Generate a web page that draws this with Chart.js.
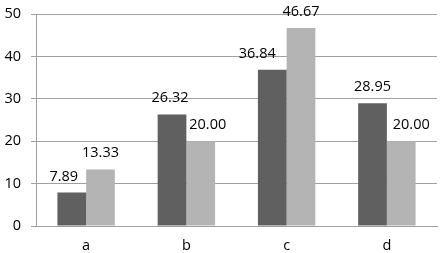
<!DOCTYPE html>
<html>
<head>
<meta charset="utf-8">
<script src="https://cdn.jsdelivr.net/npm/chart.js@4.4.1/dist/chart.umd.min.js"></script>
<style>
html,body{margin:0;padding:0;background:#fff;}
#wrap{width:441px;height:253px;position:relative;}
</style>
</head>
<body>
<div id="wrap"><canvas id="c"></canvas></div>
<script>
const categories = ['a', 'b', 'c', 'd'];
const series1 = [7.89, 26.32, 36.84, 28.95];
const series2 = [13.33, 20.00, 46.67, 20.00];
const yTicks = [0, 10, 20, 30, 40, 50];

const FONT = 'Open Sans, Liberation Sans, sans-serif';

const labelPlugin = {
  id: 'valueLabels',
  afterDatasetsDraw(chart, args, opts) {
    const ctx = chart.ctx;
    ctx.save();
    ctx.font = '14.5px ' + FONT;
    ctx.fillStyle = '#000';
    ctx.textAlign = 'center';
    ctx.textBaseline = 'alphabetic';
    chart.data.datasets.forEach((ds, di) => {
      const meta = chart.getDatasetMeta(di);
      meta.data.forEach((bar, i) => {
        const shift = (opts.shifts && opts.shifts[di] && opts.shifts[di][i]) || 0;
        ctx.fillText(Number(ds.data[i]).toFixed(2), bar.x + shift, bar.y - 12);
      });
    });
    ctx.restore();
  }
};

new Chart(document.getElementById('c'), {
  type: 'bar',
  data: {
    labels: categories,
    datasets: [
      { data: series1, backgroundColor: '#606060', borderWidth: 0 },
      { data: series2, backgroundColor: '#b4b4b4', borderWidth: 0 }
    ]
  },
  options: {
    responsive: true,
    maintainAspectRatio: false,
    animation: false,
    devicePixelRatio: 1,
    layout: { padding: { left: 4, right: 4, top: 14, bottom: 0 } },
    datasets: { bar: { barPercentage: 1, categoryPercentage: 0.573 } },
    plugins: {
      legend: { display: false },
      tooltip: { enabled: false },
      valueLabels: { shifts: [[-8, -2, -15, 0], [0, 7, 0, 10]] }
    },
    scales: {
      x: {
        grid: { display: false },
        border: { display: true, color: '#a0a0a0', width: 1 },
        ticks: { font: { family: FONT, size: 14.5 }, color: '#000', padding: 3 },
        afterFit(scale) { scale.height = 27; }
      },
      y: {
        min: 0,
        max: 50,
        afterBuildTicks(axis) { axis.ticks = yTicks.map(v => ({ value: v })); },
        grid: { color: '#a0a0a0', lineWidth: 1, drawTicks: true, tickLength: 5 },
        border: { display: true, color: '#a0a0a0', width: 1 },
        ticks: { font: { family: FONT, size: 14.5 }, color: '#000', padding: 10 },
        afterFit(scale) { scale.width = 32; scale.paddingTop = 0; scale.paddingBottom = 0; }
      }
    }
  },
  plugins: [labelPlugin]
});
</script>
</body>
</html>
